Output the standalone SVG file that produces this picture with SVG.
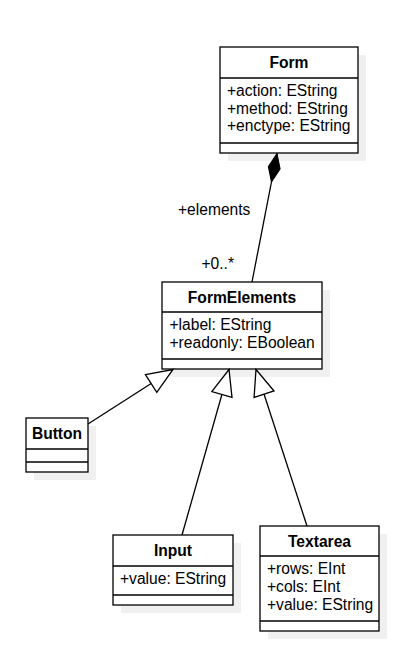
<svg xmlns="http://www.w3.org/2000/svg" width="400" height="666" viewBox="0 0 400 666">
<style>
  .shadow { fill: #f0f0f0; stroke: none; }
  .box { fill: #ffffff; stroke: #000000; stroke-width: 1.3; }
  .sep { stroke: #000000; stroke-width: 1.3; }
  .title { font-family: "Liberation Sans", Arial, sans-serif; font-size: 15.6px; font-weight: bold; fill: #000000; text-anchor: middle; }
  .attr { font-family: "Liberation Sans", Arial, sans-serif; font-size: 15.6px; fill: #000000; }
  .lbl { font-family: "Liberation Sans", Arial, sans-serif; font-size: 15.6px; fill: #000000; }
  .edge { fill: none; stroke: #000000; stroke-width: 1.3; }
</style>
<defs>
  <marker id="diamond" markerUnits="userSpaceOnUse" markerWidth="32" markerHeight="16" refX="1" refY="7" orient="auto" viewBox="0 0 32 16">
    <path d="M1,7 L15.5,1 L30,7 L15.5,13 Z" fill="#000000" stroke="#000000" stroke-width="1"/>
  </marker>
  <marker id="triangle" markerUnits="userSpaceOnUse" markerWidth="30" markerHeight="25" refX="27" refY="11.5" orient="auto" viewBox="0 0 30 25">
    <path d="M1,1 L27,11.5 L1,22 Z" fill="#ffffff" stroke="#000000" stroke-width="1.3"/>
  </marker>
</defs>
<rect width="400" height="666" fill="#ffffff"/>

<g id="Form">
  <rect class="shadow" x="228" y="55" width="138" height="106"/>
  <rect class="box" x="220" y="47" width="138" height="106"/>
  <line class="sep" x1="220" y1="78" x2="358" y2="78"/>
  <line class="sep" x1="220" y1="143" x2="358" y2="143"/>
  <text class="title" x="289" y="68">Form</text>
  <text class="attr" x="227" y="96">+action: EString</text>
  <text class="attr" x="227" y="113.5">+method: EString</text>
  <text class="attr" x="227" y="131">+enctype: EString</text>
</g>

<g id="FormElements">
  <rect class="shadow" x="170" y="290" width="160" height="87"/>
  <rect class="box" x="162" y="282" width="160" height="87"/>
  <line class="sep" x1="162" y1="312" x2="322" y2="312"/>
  <line class="sep" x1="162" y1="359" x2="322" y2="359"/>
  <text class="title" x="242" y="302.5">FormElements</text>
  <text class="attr" x="169.5" y="330">+label: EString</text>
  <text class="attr" x="169.5" y="347.5">+readonly: EBoolean</text>
</g>

<g id="Button">
  <rect class="shadow" x="34" y="426" width="62" height="54"/>
  <rect class="box" x="26" y="418" width="62" height="54"/>
  <line class="sep" x1="26" y1="449" x2="88" y2="449"/>
  <line class="sep" x1="26" y1="462" x2="88" y2="462"/>
  <text class="title" x="57" y="439">Button</text>
</g>

<g id="Input">
  <rect class="shadow" x="121" y="543" width="120" height="70"/>
  <rect class="box" x="113" y="535" width="120" height="70"/>
  <line class="sep" x1="113" y1="566" x2="233" y2="566"/>
  <line class="sep" x1="113" y1="595" x2="233" y2="595"/>
  <text class="title" x="173" y="556">Input</text>
  <text class="attr" x="120" y="584">+value: EString</text>
</g>

<g id="Textarea">
  <rect class="shadow" x="268" y="534" width="119" height="105"/>
  <rect class="box" x="260" y="526" width="119" height="105"/>
  <line class="sep" x1="260" y1="556" x2="379" y2="556"/>
  <line class="sep" x1="260" y1="621" x2="379" y2="621"/>
  <text class="title" x="319.5" y="547">Textarea</text>
  <text class="attr" x="267" y="574.3">+rows: EInt</text>
  <text class="attr" x="267" y="592">+cols: EInt</text>
  <text class="attr" x="267" y="609.7">+value: EString</text>
</g>

<g id="connectors">
  <line class="edge" x1="277" y1="153.5" x2="252" y2="282" marker-start="url(#diamond)"/>
  <text class="lbl" x="178" y="215">+elements</text>
  <text class="lbl" x="201.5" y="269">+0..*</text>
  <line class="edge" x1="88" y1="424" x2="173" y2="369.5" marker-end="url(#triangle)"/>
  <line class="edge" x1="182" y1="535" x2="229" y2="369.5" marker-end="url(#triangle)"/>
  <line class="edge" x1="307" y1="526" x2="256" y2="369.5" marker-end="url(#triangle)"/>
</g>
</svg>
